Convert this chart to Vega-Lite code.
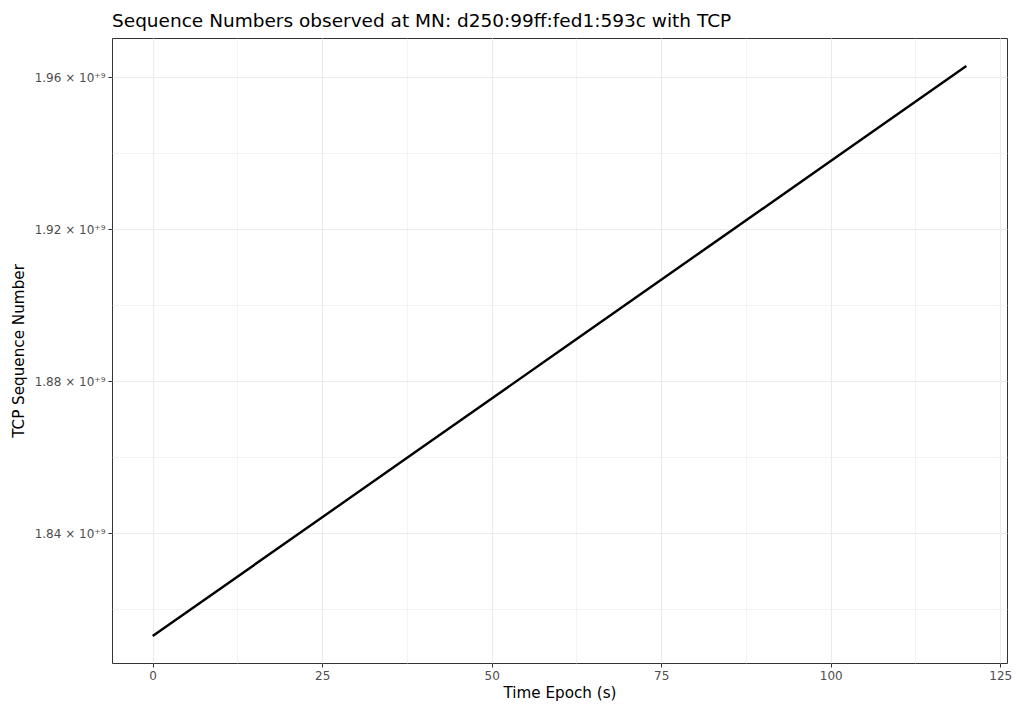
{
  "$schema": "https://vega.github.io/schema/vega-lite/v6.json",
  "width": 895,
  "height": 625,
  "autosize": {"type": "none"},
  "padding": {"left": 112, "top": 38, "right": 14, "bottom": 41},
  "background": "white",
  "title": {
    "text": "Sequence Numbers observed at MN: d250:99ff:fed1:593c with TCP",
    "anchor": "start",
    "frame": "group",
    "font": "DejaVu Sans",
    "fontSize": 18.5,
    "fontWeight": "normal",
    "color": "#000000",
    "baseline": "alphabetic",
    "offset": 11,
    "dy": 18
  },
  "config": {
    "view": {"stroke": "#333333", "strokeWidth": 1},
    "axis": {
      "labelFont": "DejaVu Sans",
      "titleFont": "DejaVu Sans",
      "labelColor": "#4d4d4d",
      "labelFontSize": 12,
      "titleFontSize": 15.2,
      "titleFontWeight": "normal",
      "titleColor": "#000000",
      "domain": false,
      "tickSize": 4,
      "tickWidth": 1,
      "labelPadding": 3
    }
  },
  "data": {
    "values": [
      {"t": 0, "seq": 1812900000},
      {"t": 20, "seq": 1837916000},
      {"t": 40, "seq": 1862932000},
      {"t": 60, "seq": 1887948000},
      {"t": 80, "seq": 1912964000},
      {"t": 100, "seq": 1937980000},
      {"t": 120, "seq": 1963000000}
    ]
  },
  "mark": {"type": "line", "color": "#000000", "strokeWidth": 2.4, "clip": true},
  "encoding": {
    "x": {
      "field": "t",
      "type": "quantitative",
      "title": "Time Epoch (s)",
      "scale": {"domain": [-6, 126], "nice": false, "zero": false},
      "axis": {
        "values": [0, 12.5, 25, 37.5, 50, 62.5, 75, 87.5, 100, 112.5, 125],
        "labelExpr": "datum.value % 25 === 0 ? format(datum.value, 'd') : ''",
        "gridColor": "#ebebeb",
        "gridWidth": {"condition": {"test": "datum.value % 25 === 0", "value": 1.1}, "value": 0.6},
        "tickColor": {"condition": {"test": "datum.value % 25 === 0", "value": "#333333"}, "value": "transparent"},
        "titlePadding": 4
      }
    },
    "y": {
      "field": "seq",
      "type": "quantitative",
      "title": "TCP Sequence Number",
      "scale": {"domain": [1805800000, 1970400000], "nice": false, "zero": false},
      "axis": {
        "values": [1820000000, 1840000000, 1860000000, 1880000000, 1900000000, 1920000000, 1940000000, 1960000000],
        "labelExpr": "datum.value % 40000000 === 0 ? format(datum.value / 1e9, '.2f') + ' × 10⁺⁹' : ''",
        "gridColor": "#ebebeb",
        "gridWidth": {"condition": {"test": "datum.value % 40000000 === 0", "value": 1.1}, "value": 0.6},
        "tickColor": {"condition": {"test": "datum.value % 40000000 === 0", "value": "#333333"}, "value": "transparent"},
        "titlePadding": 8
      }
    }
  }
}
